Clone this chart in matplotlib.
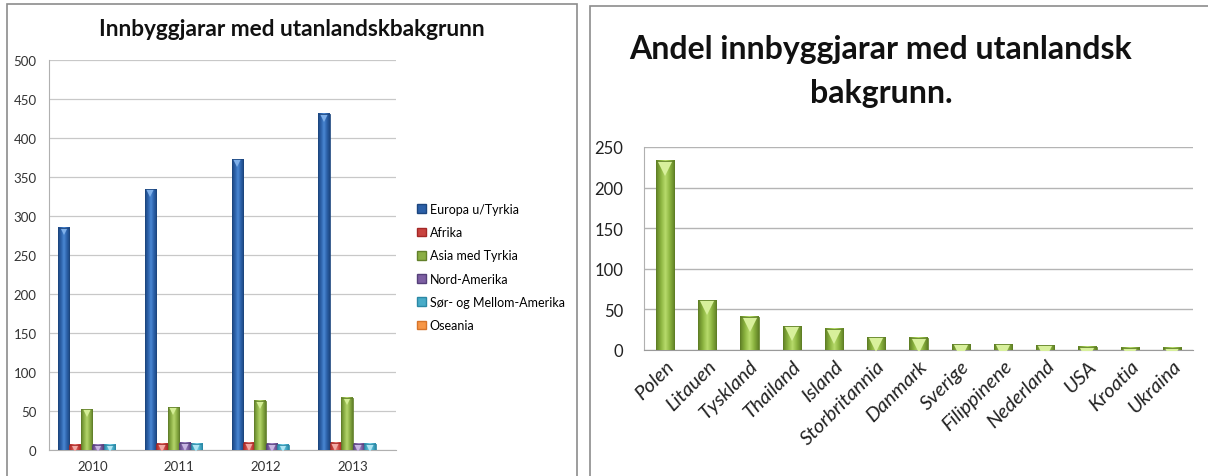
import numpy as np
import matplotlib
matplotlib.use("Agg")
import matplotlib.pyplot as plt
import matplotlib.transforms as mtransforms
from matplotlib.colors import LinearSegmentedColormap
from matplotlib.patches import Rectangle

plt.rcParams['font.family'] = ['Lato', 'DejaVu Sans']

# venstre diagram: innbyggjarar etter verdsdel
aar = ['2010', '2011', '2012', '2013']
regionar = ['Europa u/Tyrkia', 'Afrika', 'Asia med Tyrkia', 'Nord-Amerika',
            'Sør- og Mellom-Amerika', 'Oseania']
europa = [285, 334, 373, 431]
afrika = [7, 8, 9, 9]
asia = [52, 55, 63, 67]
nord_amerika = [7, 9, 8, 8]
sor_amerika = [7, 8, 7, 8]
oseania = [0, 0, 0, 0]

# høgre diagram: innbyggjarar etter land
land = ['Polen', 'Litauen', 'Tyskland', 'Thailand', 'Island', 'Storbritannia',
        'Danmark', 'Sverige', 'Filippinene', 'Nederland', 'USA', 'Kroatia', 'Ukraina']
antal = [233, 61, 41, 29, 26, 16, 15, 7, 7, 6, 4, 3, 3]

# farger (mørk kant, midt, lys, topp)
fargar = [('#1c467f', '#2c60a8', '#4a88d4', '#7fb0ea'),
          ('#a42826', '#c9433f', '#e7807c', '#f2aaa6'),
          ('#62802a', '#8aae44', '#b5d56c', '#d4ee96'),
          ('#55407a', '#7d5fa3', '#a68ccb', '#c8b6e2'),
          ('#2b88a5', '#48acc8', '#84d3e8', '#b0e6f4'),
          ('#d6742a', '#f79646', '#fbc08a', '#fdd8b4')]
gron = ('#5f7f25', '#8ab23e', '#b8dc6c', '#d8f09c')


def skugge_stolpar(ax, bars, farge, tri):
    cmap = LinearSegmentedColormap.from_list('s', [farge[0], farge[1], farge[2], farge[1], farge[0]])
    grad = np.linspace(0, 1, 64).reshape(1, -1)
    ned = mtransforms.offset_copy(ax.transData, fig=ax.figure, x=0, y=-tri * 0.45, units='points')
    for p in bars:
        x, y, w, h = p.get_x(), p.get_y(), p.get_width(), p.get_height()
        if h <= 0:
            continue
        ax.imshow(grad, cmap=cmap, extent=(x, x + w, y, y + h), aspect='auto',
                  zorder=3, interpolation='bilinear')
        p.set_facecolor('none')
        p.set_edgecolor(farge[0])
        p.set_linewidth(0.6)
        p.set_zorder(5)
        # lys trekant på toppen
        m, = ax.plot([x + w / 2], [y + h], marker='v', markersize=tri, color=farge[3],
                     markeredgewidth=0, transform=ned, zorder=4)
        m.set_clip_path(p)


fig = plt.figure(figsize=(12.08, 4.77), dpi=100)
W, H = 1208, 477

# rammer rundt kvart diagram
fig.add_artist(Rectangle((7 / W, -0.01), 570 / W, 1 - 5 / H + 0.01, transform=fig.transFigure,
                         fill=False, edgecolor='#8c8c8c', linewidth=1.2))
fig.add_artist(Rectangle((590 / W, -0.01), 1 - 590 / W + 0.01, 1 - 7 / H + 0.01,
                         transform=fig.transFigure, fill=False, edgecolor='#8c8c8c', linewidth=1.2))

# ---- venstre ----
ax1 = fig.add_axes([49 / W, 1 - 451 / H, 347 / W, 390 / H])
serier = [europa, afrika, asia, nord_amerika, sor_amerika, oseania]
x = np.arange(len(aar))
bw = 0.132
legend_handles = []
for i, (namn, verdi) in enumerate(zip(regionar, serier)):
    pos = x + (i - 2.5) * bw
    bars = ax1.bar(pos, verdi, width=bw, color=fargar[i][1], zorder=3)
    skugge_stolpar(ax1, bars, fargar[i], 6)
    legend_handles.append(Rectangle((0, 0), 1, 1, facecolor=fargar[i][1], edgecolor=fargar[i][0]))

ax1.set_xlim(-0.5, len(aar) - 0.5)
ax1.set_ylim(0, 500)
ax1.set_yticks(range(0, 501, 50))
ax1.set_xticks(x)
ax1.set_xticklabels(aar)
ax1.grid(axis='y', color='#c8c8c8', linewidth=0.9, zorder=0)
ax1.set_axisbelow(True)
for s in ['top', 'right']:
    ax1.spines[s].set_visible(False)
ax1.spines['left'].set_color('#b0b0b0')
ax1.spines['bottom'].set_color('#b0b0b0')
ax1.tick_params(axis='both', length=0, labelsize=9.5, colors='#333333')
ax1.tick_params(axis='y', pad=9)
ax1.tick_params(axis='x', pad=7)
fig.text(292 / W, 1 - 30 / H, 'Innbyggjarar med utanlandskbakgrunn', ha='center', va='center',
         fontsize=16.3, fontweight='bold', color='#111111')

fig.legend(legend_handles, regionar, loc='upper left', bbox_to_anchor=(412 / W, 1 - 199 / H),
           frameon=False, fontsize=9.0, handlelength=0.7, handleheight=0.7,
           handletextpad=0.3, labelspacing=0.9, borderaxespad=0)

# ---- høgre ----
ax2 = fig.add_axes([644 / W, 1 - 351 / H, 549 / W, 203 / H])
xl = np.arange(len(land))
bars = ax2.bar(xl, antal, width=0.43, color=gron[1], zorder=3)
skugge_stolpar(ax2, bars, gron, 11)
ax2.set_xlim(-0.5, len(land) - 0.5)
ax2.set_ylim(0, 250)
ax2.set_yticks(range(0, 251, 50))
ax2.set_xticks(xl)
ax2.set_xticklabels(land, rotation=45, ha='right', rotation_mode='anchor',
                    fontstyle='italic', fontsize=14.5)
ax2.grid(axis='y', color='#b4b4b4', linewidth=1.0, zorder=0)
ax2.set_axisbelow(True)
for s in ['top', 'right']:
    ax2.spines[s].set_visible(False)
ax2.spines['left'].set_color('#b0b0b0')
ax2.spines['bottom'].set_color('#9a9a9a')
ax2.tick_params(axis='both', length=0, colors='#222222')
ax2.tick_params(axis='y', labelsize=12, pad=15)
ax2.tick_params(axis='x', pad=5)
fig.text(881 / W, 1 - 50 / H, 'Andel innbyggjarar med utanlandsk', ha='center', va='center',
         fontsize=23, fontweight='bold', color='#111111')
fig.text(881 / W, 1 - 94 / H, 'bakgrunn.', ha='center', va='center',
         fontsize=23, fontweight='bold', color='#111111')

fig.savefig('out.png', dpi=100)
